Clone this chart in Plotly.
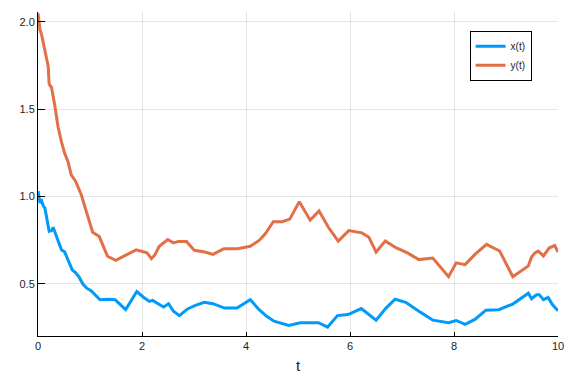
import plotly.graph_objects as go

# x(t) series
t_x = [0.0, 0.038, 0.070, 0.101, 0.133, 0.177, 0.215, 0.260, 0.291, 0.342, 0.386,
       0.451, 0.513, 0.576, 0.660, 0.722, 0.785, 0.861, 0.937, 1.021, 1.103, 1.192,
       1.337, 1.483, 1.686, 1.900, 2.034, 2.143, 2.205, 2.306, 2.414, 2.510, 2.605,
       2.719, 2.876, 3.017, 3.194, 3.365, 3.587, 3.827, 4.082, 4.253, 4.392, 4.538,
       4.823, 5.044, 5.393, 5.570, 5.760, 5.963, 6.217, 6.502, 6.692, 6.869, 7.072,
       7.325, 7.591, 7.896, 8.042, 8.213, 8.403, 8.612, 8.859, 9.131, 9.430, 9.492,
       9.587, 9.639, 9.721, 9.810, 9.892, 10.0]
x_vals = [1.031, 0.964, 0.974, 0.946, 0.933, 0.870, 0.800, 0.804, 0.823, 0.782, 0.748,
          0.694, 0.681, 0.634, 0.578, 0.563, 0.540, 0.499, 0.474, 0.459, 0.436, 0.408,
          0.411, 0.408, 0.351, 0.455, 0.421, 0.398, 0.404, 0.385, 0.366, 0.385, 0.342,
          0.317, 0.355, 0.374, 0.393, 0.385, 0.360, 0.360, 0.408, 0.351, 0.314, 0.285,
          0.261, 0.276, 0.276, 0.251, 0.317, 0.323, 0.357, 0.291, 0.360, 0.411, 0.393,
          0.342, 0.291, 0.276, 0.289, 0.267, 0.295, 0.348, 0.351, 0.383, 0.445, 0.414,
          0.436, 0.436, 0.408, 0.421, 0.380, 0.345]

# y(t) series
t_y = [0.0, 0.025, 0.038, 0.070, 0.101, 0.133, 0.165, 0.196, 0.215, 0.260, 0.323,
       0.386, 0.450, 0.513, 0.576, 0.639, 0.722, 0.798, 0.831, 0.926, 1.051, 1.179,
       1.337, 1.496, 1.654, 1.888, 2.097, 2.181, 2.243, 2.333, 2.496, 2.605, 2.700,
       2.857, 3.004, 3.207, 3.365, 3.574, 3.840, 4.082, 4.253, 4.378, 4.525, 4.696,
       4.842, 5.025, 5.234, 5.405, 5.584, 5.774, 5.975, 6.230, 6.363, 6.502, 6.679,
       6.882, 7.105, 7.325, 7.591, 7.896, 8.042, 8.213, 8.403, 8.625, 8.878, 9.131,
       9.430, 9.492, 9.557, 9.620, 9.721, 9.829, 9.937, 10.0]
y_vals = [2.05, 1.993, 1.955, 1.926, 1.879, 1.823, 1.775, 1.747, 1.643, 1.625, 1.521,
          1.398, 1.314, 1.247, 1.200, 1.124, 1.087, 1.040, 1.011, 0.917, 0.795, 0.770,
          0.657, 0.634, 0.659, 0.694, 0.677, 0.643, 0.663, 0.714, 0.753, 0.734, 0.742,
          0.742, 0.691, 0.681, 0.668, 0.700, 0.700, 0.714, 0.748, 0.789, 0.855, 0.855,
          0.870, 0.970, 0.864, 0.917, 0.823, 0.744, 0.804, 0.791, 0.766, 0.681, 0.744,
          0.706, 0.676, 0.638, 0.647, 0.540, 0.619, 0.609, 0.668, 0.725, 0.687, 0.540,
          0.602, 0.653, 0.676, 0.687, 0.659, 0.704, 0.719, 0.681]

x_ticks = [0, 2, 4, 6, 8, 10]
y_ticks = [0.5, 1.0, 1.5, 2.0]
y_tick_labels = ["0.5", "1.0", "1.5", "2.0"]

BLUE = "#009AF9"
RED = "#E26F46"

fig = go.Figure()
fig.add_trace(go.Scatter(x=t_x, y=x_vals, mode="lines", name="x(t)",
                         line=dict(color=BLUE, width=3)))
fig.add_trace(go.Scatter(x=t_y, y=y_vals, mode="lines", name="y(t)",
                         line=dict(color=RED, width=3)))

axis_common = dict(
    showgrid=True, gridcolor="rgba(0,0,0,0.1)", gridwidth=1,
    zeroline=False, showline=True, linecolor="black", linewidth=1,
    ticks="inside", tickcolor="black", mirror=False,
    tickfont=dict(family="Liberation Sans, Arial, sans-serif", size=11, color="#222"),
)

fig.update_layout(
    width=576, height=384,
    margin=dict(l=38, r=12, t=12, b=44),
    paper_bgcolor="white", plot_bgcolor="white",
    font=dict(family="Liberation Sans, Arial, sans-serif", color="#222"),
    xaxis=dict(range=[0, 10], tickvals=x_ticks, ticklen=4,
               title=dict(text="t", font=dict(size=15), standoff=9),
               **axis_common),
    yaxis=dict(range=[0.2, 2.057], tickvals=y_ticks, ticktext=y_tick_labels,
               ticklen=7, **axis_common),
    legend=dict(x=0.83, y=0.942, xanchor="left", yanchor="top",
                bordercolor="black", borderwidth=1, bgcolor="white",
                font=dict(size=10), tracegroupgap=0, itemwidth=30),
    showlegend=True,
)

fig.write_html("out.html")
